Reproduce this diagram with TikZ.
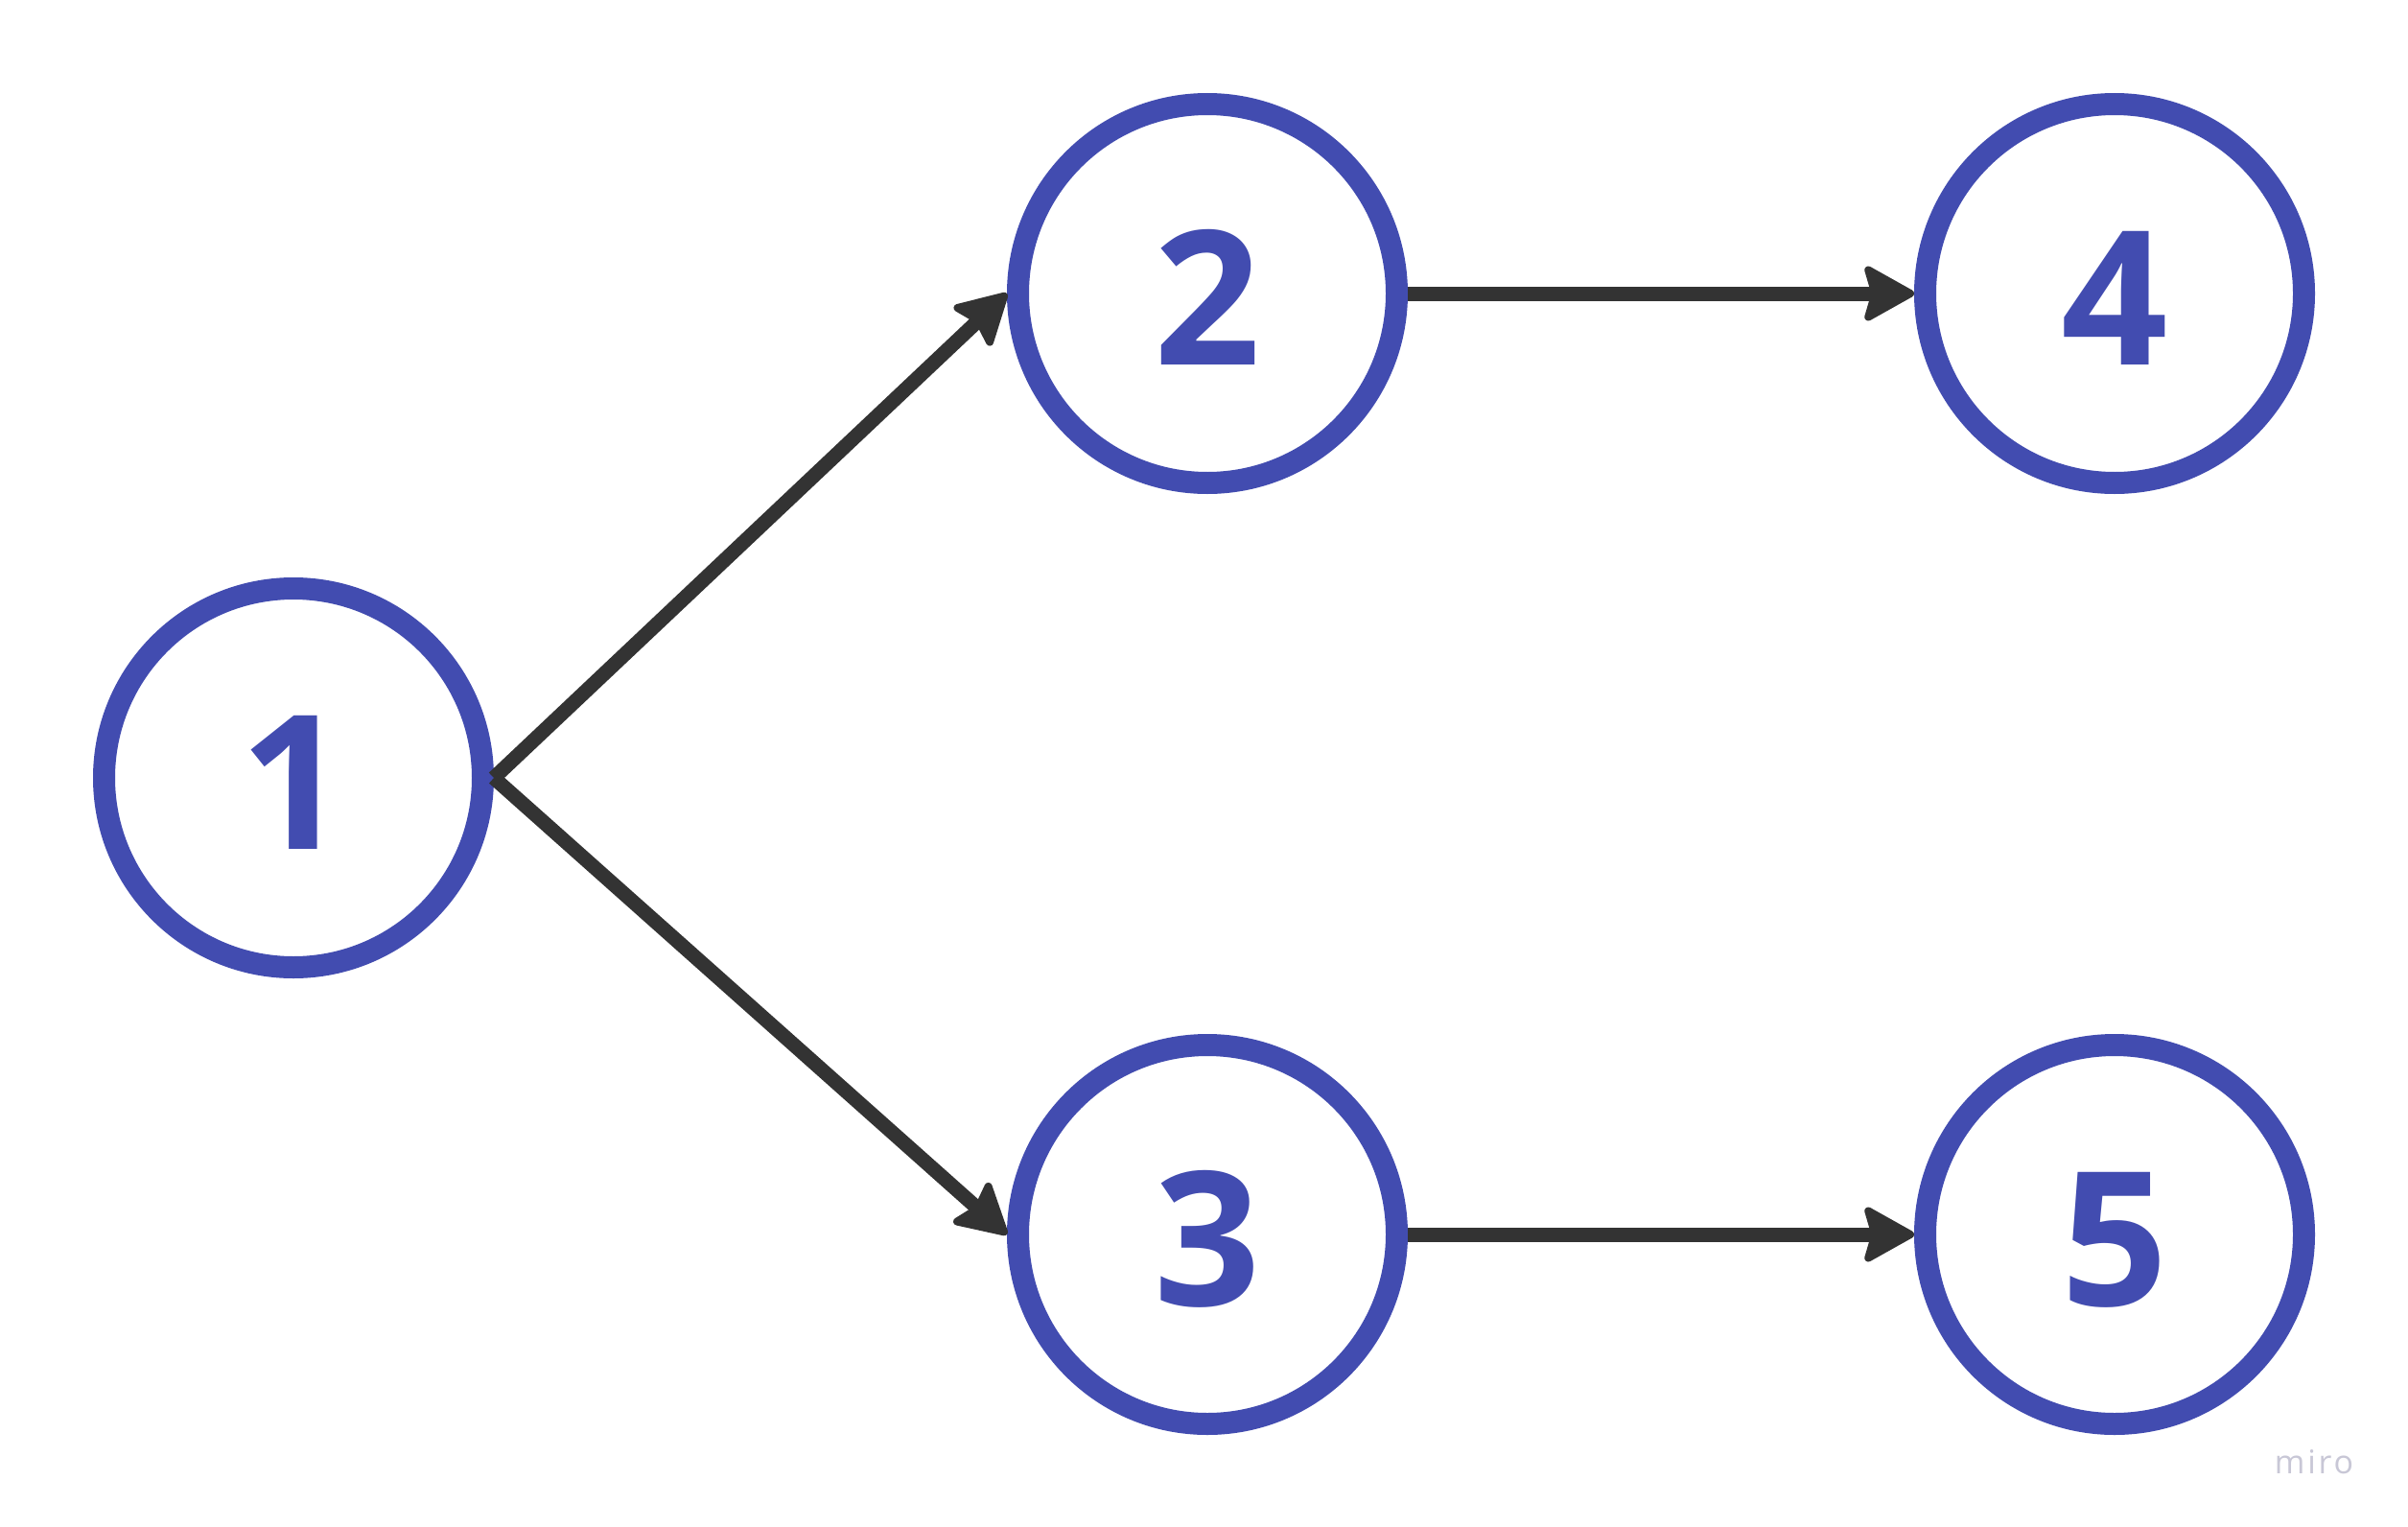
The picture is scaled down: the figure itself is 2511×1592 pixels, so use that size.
\documentclass[tikz,border=0pt]{standalone}
\usepackage{fontspec}
\setmainfont{Open Sans}
\usetikzlibrary{arrows.meta}
\definecolor{nodeblue}{RGB}{66,76,176}
\definecolor{arrowgray}{RGB}{51,51,51}
\definecolor{logogray}{RGB}{200,199,214}
\begin{document}
\begin{tikzpicture}[x=1pt,y=-1pt,
  numnode/.style={circle, draw=nodeblue, line width=23pt, minimum size=395pt, inner sep=0pt,
    text height=149pt, text depth=0pt,
    text=nodeblue, font=\fontsize{195}{200}\selectfont\bfseries},
  link/.style={draw=arrowgray, line width=15pt,
    -{Stealth[length=58pt,width=64pt,inset=9pt,round,line width=8pt]}}]
\fill[white] (0,0) rectangle (2511,1592);
\useasboundingbox (0,0) rectangle (2511,1592);
\node[numnode] (n1) at (306,811) {1};
\node[numnode] (n2) at (1259,306) {2};
\node[numnode] (n3) at (1259,1287) {3};
\node[numnode] (n4) at (2205,306) {4};
\node[numnode] (n5) at (2205,1287) {5};
\draw[link] (n1.east) -- (n2.west);
\draw[link] (n1.east) -- (n3.west);
\draw[link] (n2.east) -- (n4.west);
\draw[link] (n3.east) -- (n5.west);
\node[text=logogray, font=\fontsize{34}{38}\selectfont\addfontfeatures{LetterSpace=8}] (logo) at (2413,1524) {miro};
\end{tikzpicture}
\end{document}
